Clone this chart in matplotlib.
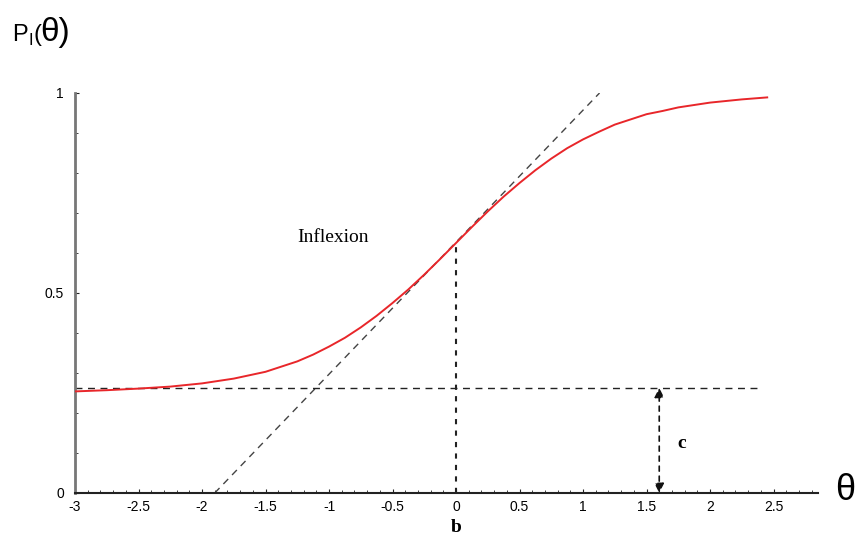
import numpy as np
import matplotlib.pyplot as plt
from matplotlib.ticker import MultipleLocator

# values
theta = [-3, -2.75, -2.5, -2.25, -2, -1.75, -1.5, -1.375, -1.25, -1.125, -1, -0.875,
         -0.75, -0.625, -0.5, -0.375, -0.25, -0.125, 0, 0.125, 0.25, 0.375, 0.5, 0.625,
         0.75, 0.875, 1, 1.125, 1.25, 1.375, 1.5, 1.625, 1.75, 2, 2.25, 2.45]
prob = [0.254, 0.257, 0.261, 0.266, 0.274, 0.286, 0.303, 0.316, 0.329, 0.346, 0.366, 0.388,
        0.414, 0.443, 0.475, 0.509, 0.546, 0.585, 0.625, 0.665, 0.704, 0.741, 0.775, 0.807,
        0.836, 0.862, 0.884, 0.903, 0.921, 0.934, 0.947, 0.955, 0.964, 0.976, 0.984, 0.989]
c_level = 0.263
b_theta = 0.0
b_prob = 0.625
tangent_x = [-1.9, 1.13]
tangent_y = [0.0, 1.0]
arrow_x = 1.6
xticks = [-3, -2.5, -2, -1.5, -1, -0.5, 0, 0.5, 1, 1.5, 2, 2.5]
xticklabels = ['-3', '-2.5', '-2', '-1.5', '-1', '-0.5', '0', '0.5', '1', '1.5', '2', '2.5']
yticks = [0, 0.5, 1]
yticklabels = ['0', '0.5', '1']

plt.rcParams['font.family'] = ['Liberation Sans', 'DejaVu Sans']

fig = plt.figure(figsize=(8.58, 5.44), dpi=100)
ax = fig.add_axes([75/858, 1-493/544, (818-75)/858, 400/544])
ax.set_xlim(-3, 2.85)
ax.set_ylim(0, 1)

ax.plot(theta, prob, color='#e8262a', lw=1.4, zorder=3, solid_joinstyle='round')
ax.plot(tangent_x, tangent_y, color='#444444', lw=1, ls=(0, (5, 4)))
ax.plot([-3, 2.4], [c_level, c_level], color='#222222', lw=1, ls=(0, (5, 4)))
ax.plot([b_theta, b_theta], [0, b_prob], color='#222222', lw=1.5, ls=(0, (2.5, 3)))
ax.annotate('', xy=(arrow_x, c_level), xytext=(arrow_x, 0.0),
            arrowprops=dict(arrowstyle='<|-|>', color='#111111', lw=1.2, ls=(0, (3, 3)),
                            mutation_scale=14, shrinkA=0, shrinkB=0))

ax.text(-1.25, 0.64, 'Inflexion', family='Liberation Serif', fontsize=14, ha='left', va='center')
ax.text(1.78, 0.125, 'c', family='Liberation Serif', fontsize=14, fontweight='bold', ha='center', va='center')
ax.text(0.0, -0.085, 'b', family='Liberation Serif', fontsize=14, fontweight='bold', ha='center', va='center')

ax.spines['top'].set_visible(False)
ax.spines['right'].set_visible(False)
ax.spines['left'].set_color('#777777')
ax.spines['left'].set_linewidth(2)
ax.spines['bottom'].set_color('#222222')
ax.spines['bottom'].set_linewidth(1.5)

ax.set_xticks(xticks)
ax.set_xticklabels(xticklabels)
ax.set_yticks(yticks)
ax.set_yticklabels(yticklabels)
ax.xaxis.set_minor_locator(MultipleLocator(0.1))
ax.yaxis.set_minor_locator(MultipleLocator(0.1))
ax.tick_params(axis='both', which='major', direction='in', length=3, labelsize=10, color='#222222')
ax.tick_params(axis='both', which='minor', direction='in', length=2.5, color='#222222')
ax.tick_params(axis='x', pad=5)
ax.tick_params(axis='y', pad=8)

fig.text(12/858, 1-35/544, r'P$_\mathregular{I}$(', fontsize=17, va='center', ha='left')
fig.text(40/858, 1-33/544, '\u03b8)', fontsize=24, va='center', ha='left')
fig.text(835/858, 1-490/544, '\u03b8', fontsize=26, va='center', ha='left')

fig.savefig('out.png', dpi=100)
